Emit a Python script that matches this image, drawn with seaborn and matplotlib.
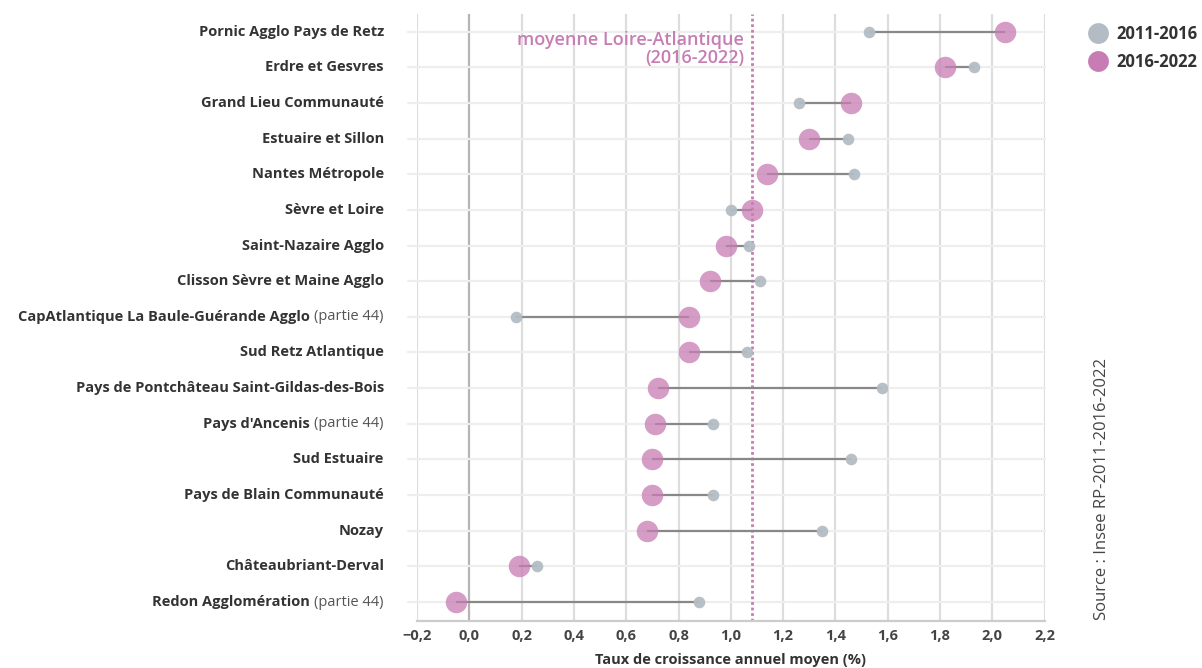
import pandas as pd
import numpy as np
import matplotlib
matplotlib.use("Agg")
import matplotlib.pyplot as plt
from matplotlib.lines import Line2D
import seaborn as sns

# données
territoires = ["Pornic Agglo Pays de Retz", "Erdre et Gesvres", "Grand Lieu Communauté",
               "Estuaire et Sillon", "Nantes Métropole", "Sèvre et Loire",
               "Saint-Nazaire Agglo", "Clisson Sèvre et Maine Agglo",
               "CapAtlantique La Baule-Guérande Agglo", "Sud Retz Atlantique",
               "Pays de Pontchâteau Saint-Gildas-des-Bois", "Pays d'Ancenis",
               "Sud Estuaire", "Pays de Blain Communauté", "Nozay",
               "Châteaubriant-Derval", "Redon Agglomération"]
partie44 = [False, False, False, False, False, False, False, False, True, False,
            False, True, False, False, False, False, True]
taux_2011_2016 = [1.53, 1.93, 1.26, 1.45, 1.47, 1.00, 1.07, 1.11, 0.18, 1.06,
                  1.58, 0.93, 1.46, 0.93, 1.35, 0.26, 0.88]
taux_2016_2022 = [2.05, 1.82, 1.46, 1.30, 1.14, 1.08, 0.98, 0.92, 0.84, 0.84,
                  0.72, 0.71, 0.70, 0.70, 0.68, 0.19, -0.05]
moyenne_la = 1.08
periodes = ["2011-2016", "2016-2022"]
xticks = [-0.2, 0.0, 0.2, 0.4, 0.6, 0.8, 1.0, 1.2, 1.4, 1.6, 1.8, 2.0, 2.2]

GRIS = "#b3bcc4"
ROSE = "#c77db3"
TXT = "#333333"

df = pd.DataFrame({"territoire": territoires, "pos": range(len(territoires)),
                   "2011-2016": taux_2011_2016, "2016-2022": taux_2016_2022})
long = df.melt(id_vars=["territoire", "pos"], value_vars=periodes,
               var_name="periode", value_name="taux")

sns.set_style("white")
plt.rcParams["font.family"] = ["Open Sans", "DejaVu Sans"]

fig = plt.figure(figsize=(12.02, 6.68), dpi=100)
ax = fig.add_axes([0.347, 0.0704, 0.522, 0.909])

# grille
for x in xticks:
    ax.axvline(x, color="#b5b5b5" if x == 0 else "#dddddd", lw=1.6, zorder=0)
for p in df["pos"]:
    ax.axhline(p, xmin=-0.015, color="#eeeeee", lw=1.6, zorder=0, clip_on=False)

# segments
ax.hlines(df["pos"], df["2011-2016"], df["2016-2022"], color="#888888", lw=1.6, zorder=2)

sns.scatterplot(data=long[long.periode == "2011-2016"], x="taux", y="pos", color=GRIS,
                s=70, linewidth=0, alpha=0.95, zorder=3, legend=False, ax=ax)
sns.scatterplot(data=long[long.periode == "2016-2022"], x="taux", y="pos", color=ROSE,
                s=240, linewidth=0, alpha=0.75, zorder=4, legend=False, ax=ax)

# moyenne départementale
ax.axvline(moyenne_la, color=ROSE, lw=2, ls=(0, (1, 1)), zorder=1)
ax.text(moyenne_la - 0.03, 0.5, "moyenne Loire-Atlantique\n(2016-2022)", color=ROSE,
        ha="right", va="center", fontsize=13, fontweight="semibold", linespacing=1.0)

ax.set_xlim(-0.2, 2.2)
ax.set_ylim(len(territoires) - 0.47, -0.5)
ax.set_xticks(xticks)
ax.set_xticklabels([("−" if v < 0 else "") + f"{abs(v):.1f}".replace(".", ",") for v in xticks],
                   fontsize=10.5, fontweight="bold", color="#444444")
ax.tick_params(axis="x", length=0, pad=6)
ax.set_yticks([])
ax.set_xlabel("Taux de croissance annuel moyen (%)", fontsize=10.5, fontweight="bold",
              color=TXT, labelpad=7)
ax.set_ylabel("")
for s in ["top", "right", "left"]:
    ax.spines[s].set_visible(False)
ax.spines["bottom"].set_color("#cccccc")
ax.spines["bottom"].set_linewidth(1.6)

# étiquettes des territoires (gras + complément en normal)
renderer = fig.canvas.get_renderer()
pad = 24
for nom, p, part in zip(territoires, df["pos"], partie44):
    dx = 0
    if part:
        t = ax.annotate("(partie 44)", xy=(0, p), xycoords=("axes fraction", "data"),
                        xytext=(-pad, 0), textcoords="offset points", ha="right", va="center",
                        fontsize=10.5, color="#555555")
        dx = t.get_window_extent(renderer).width * 72 / fig.dpi + 3
    ax.annotate(nom, xy=(0, p), xycoords=("axes fraction", "data"),
                xytext=(-pad - dx, 0), textcoords="offset points", ha="right", va="center",
                fontsize=10.5, fontweight="bold", color=TXT)

# légende
handles = [Line2D([], [], marker="o", ls="", markersize=15, color=c, markeredgewidth=0)
           for c in [GRIS, ROSE]]
fig.legend(handles, periodes, loc="upper left", bbox_to_anchor=(0.893, 0.985), frameon=False,
           prop={"weight": "bold", "size": 12}, labelcolor=TXT, handletextpad=0.5,
           labelspacing=0.6, handlelength=1.2)

fig.text(0.917, 0.072, "Source : Insee RP-2011-2016-2022", rotation=90, ha="center",
         va="bottom", fontsize=12, color="#444444")

fig.savefig("out.png", dpi=100)
